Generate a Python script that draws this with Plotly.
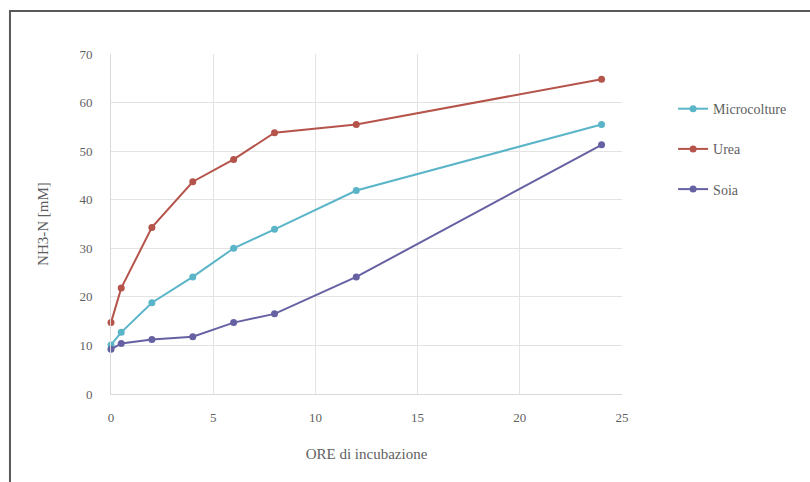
import plotly.graph_objects as go

# Hours of incubation and NH3-N concentration (mM) per treatment
ore = [0, 0.5, 2, 4, 6, 8, 12, 24]
microcolture = [10.1, 12.7, 18.8, 24.1, 30.0, 33.9, 41.9, 55.5]
urea = [14.7, 21.8, 34.3, 43.7, 48.3, 53.8, 55.5, 64.8]
soia = [9.2, 10.4, 11.2, 11.8, 14.7, 16.5, 24.1, 51.3]

series = [
    ("Microcolture", microcolture, "#5BB5C8"),
    ("Urea", urea, "#B5544B"),
    ("Soia", soia, "#6661A3"),
]

x_ticks = [0, 5, 10, 15, 20, 25]
y_ticks = [0, 10, 20, 30, 40, 50, 60, 70]

FONT = "Liberation Serif"
TEXT = "#5F5F5F"
GRID = "#E3E3E3"

fig = go.Figure()
for name, vals, color in series:
    fig.add_trace(go.Scatter(
        x=ore, y=vals, name=name, legendgroup=name, mode="lines+markers",
        line=dict(color=color, width=2),
        marker=dict(color=color, size=7, symbol="circle"),
        cliponaxis=False,
    ))

fig.update_layout(
    width=810, height=482,
    margin=dict(l=111, r=188, t=54, b=88),
    paper_bgcolor="white", plot_bgcolor="white",
    font=dict(family=FONT, size=13, color=TEXT),
    showlegend=True,
    legend=dict(
        x=1.1, y=0.885, xanchor="left", yanchor="top",
        font=dict(family=FONT, size=14, color=TEXT),
        tracegroupgap=19, itemwidth=30, traceorder="grouped",
        bgcolor="rgba(0,0,0,0)",
    ),
    xaxis=dict(
        range=[0, 25], tickvals=x_ticks, showgrid=True, gridcolor=GRID,
        gridwidth=1, zeroline=False, showline=True, linecolor="#D9D9D9",
        linewidth=1, ticks="", ticklabelstandoff=11,
        tickfont=dict(family=FONT, size=13, color=TEXT),
        title=dict(text="ORE di incubazione", standoff=24,
                   font=dict(family=FONT, size=15, color=TEXT)),
        fixedrange=True,
    ),
    yaxis=dict(
        range=[0, 70], tickvals=y_ticks, showgrid=True, gridcolor=GRID,
        gridwidth=1, zeroline=False, showline=True, linecolor="#D9D9D9",
        linewidth=1, ticks="", ticklabelstandoff=15,
        tickfont=dict(family=FONT, size=13, color=TEXT),
        title=dict(text="NH3-N [mM]", standoff=27,
                   font=dict(family=FONT, size=15, color=TEXT)),
        fixedrange=True,
    ),
)

# Frame around the chart area (left and top edges visible inside the page)
fig.add_shape(
    type="rect", xref="paper", yref="paper",
    x0=-0.1977, x1=1.5, y0=-0.3, y1=1.1267,
    line=dict(color="#595959", width=2), fillcolor="rgba(0,0,0,0)",
    layer="below",
)

fig.write_html("out.html")
